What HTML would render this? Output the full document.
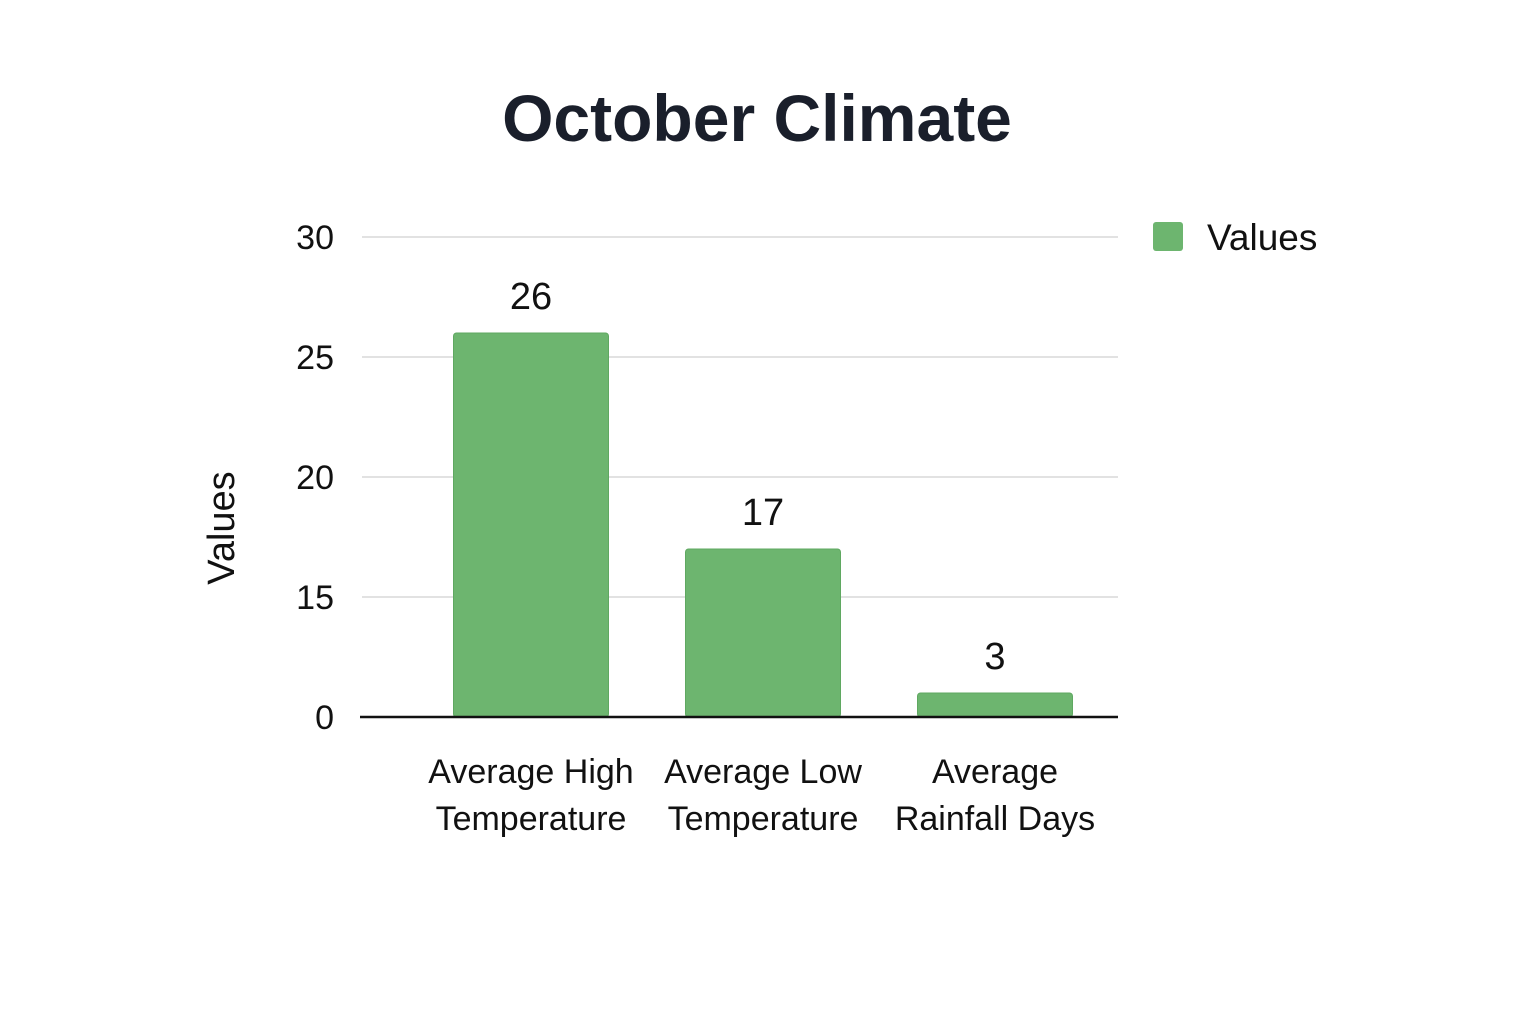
<!DOCTYPE html>
<html><head><meta charset="utf-8"><style>
body{margin:0;background:#fff;}
svg{display:block;font-family:"Liberation Sans",sans-serif;}
</style></head><body>
<svg id="chart" width="1536" height="1024">
<rect width="1536" height="1024" fill="#fff"/>
<text x="757" y="141" text-anchor="middle" font-size="66" font-weight="bold" fill="#1a1f2b">October Climate</text>
<text transform="translate(234,528) rotate(-90)" text-anchor="middle" font-size="38" fill="#111">Values</text>
<g id="grid"></g><g id="bars"></g><g id="labels"></g>
<g>
<rect x="1153" y="222" width="30" height="29" rx="3" fill="#6db56f"/>
<text x="1207" y="250" font-size="37" fill="#111">Values</text>
</g>
</svg>
<script>
const categories=[["Average High","Temperature"],["Average Low","Temperature"],["Average","Rainfall Days"]];
const values=[26,17,3];
const tickValues=[0,15,20,25,30];
const tickLabels=["0","15","20","25","30"];
const NS="http://www.w3.org/2000/svg";
const plotL=360,plotR=1118,bandL=415,bandR=1111,y0=717,yTop=237;
function yScale(v){
  const n=tickValues.length-1, step=(y0-yTop)/n;
  for(let i=0;i<n;i++){
    const a=tickValues[i],b=tickValues[i+1];
    if(v<=b||i===n-1){return y0-(i+(v-a)/(b-a))*step;}
  }
}
function xCenter(i){const bw=(bandR-bandL)/categories.length;return bandL+bw*(i+0.5);}
function mk(t,a,p){const e=document.createElementNS(NS,t);for(const k in a)e.setAttribute(k,a[k]);p.appendChild(e);return e;}
const grid=document.getElementById('grid'),bars=document.getElementById('bars'),labels=document.getElementById('labels');
tickValues.forEach((v,i)=>{
  const y=yScale(v);
  if(v!==0){const l=mk('line',{x1:362,x2:plotR,y1:y,y2:y,stroke:'#e2e2e2','stroke-width':2},grid);
  
  }
  const t=mk('text',{x:334,y:y+12,'text-anchor':'end','font-size':34,fill:'#111'},grid);
  t.textContent=tickLabels[i];
  
  
});
values.forEach((v,i)=>{
  const cx=xCenter(i),w=155,y=yScale(v);
  const r=mk('rect',{x:cx-w/2,y:y,width:w,height:y0-y,rx:3,fill:'#6db56f',stroke:'#5fa861','stroke-width':1},bars);
  
  
  const t=mk('text',{x:cx,y:y-24,'text-anchor':'middle','font-size':38,fill:'#111'},labels);
  t.textContent=String(v);
  
  
  categories[i].forEach((line,j)=>{
    const c=mk('text',{x:cx,y:783+j*47,'text-anchor':'middle','font-size':34,fill:'#111'},labels);
    c.textContent=line;
    
    
  });
});
const base=mk('line',{x1:plotL,x2:plotR,y1:y0,y2:y0,stroke:'#111','stroke-width':2.5},labels);


</script>
</body></html>
